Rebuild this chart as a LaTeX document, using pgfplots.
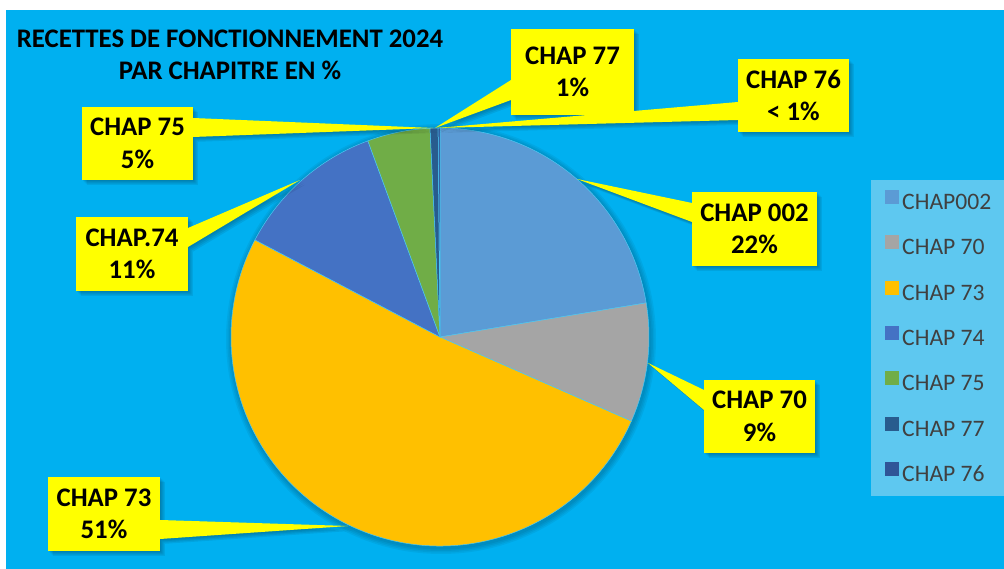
\documentclass[border=0pt]{standalone}
\usepackage{pgfplots}
\pgfplotsset{compat=1.18}
\usepackage{fontspec}
\setmainfont{Carlito}
\definecolor{bgblue}{HTML}{00B0F0}
\definecolor{legbg}{HTML}{5EC8F0}
\definecolor{c002}{HTML}{5B9BD5}
\definecolor{c70}{HTML}{A5A5A5}
\definecolor{c73}{HTML}{FFC000}
\definecolor{c74}{HTML}{4472C4}
\definecolor{c75}{HTML}{70AD47}
\definecolor{c77}{HTML}{285C8E}
\definecolor{c76}{HTML}{2F5597}
\definecolor{yel}{HTML}{FFFF00}
\definecolor{legtext}{HTML}{404040}
% pie data: value (%) / colour, clockwise from 12 o'clock
\newcommand\piedata{22.39/c002, 9.2/c70, 51.1/c73, 11.7/c74, 4.85/c75, 0.62/c77, 0.14/c76}
\newcommand\lblfont{\bfseries\fontsize{26.8}{32.5}\selectfont}
% callout: #1 x1, #2 y1, #3 x2, #4 y2 (box), #5 base x, #6 base y a, #7 base y b, #8 tip "x,y", #9 text
\newcommand\callout[9]{%
  \foreach \s in {1,2,3,4}{%
    \edef\temp{\noexpand\fill[black,opacity=0.07,shift={(axis direction cs:\s*1.2,-\s*1.2)}]
      (axis cs:#5,#6) -- (axis cs:#8) -- (axis cs:#5,#7) -- cycle
      (axis cs:#1,#2) rectangle (axis cs:#3,#4);}\temp}
  \fill[yel] (axis cs:#5,#6) -- (axis cs:#8) -- (axis cs:#5,#7) -- cycle;
  \fill[yel] (axis cs:#1,#2) rectangle (axis cs:#3,#4);
  \node[align=center,inner sep=0pt,font=\lblfont,text=black] at (axis cs:{(#1+#3)/2},{(#2+#4)/2}) {#9};
}
\begin{document}
\begin{tikzpicture}
\begin{axis}[
  width=1004pt, height=569pt, scale only axis,
  xmin=0, xmax=1004, ymin=-569, ymax=0,
  hide axis, clip=true,
  legend style={at={(0.8815,0.6661)}, anchor=north west, fill=none, draw=none,
    inner sep=0pt, row sep=18.8pt, font=\fontsize{23.6}{28}\selectfont, text=legtext,
    nodes={inner xsep=3pt, inner ysep=0pt, text height=17pt, text depth=7pt}},
  legend cell align=left,
  legend image code/.code={\fill[#1,draw=none] (0pt,0.5pt) rectangle (14pt,14.5pt);},
]
\coordinate (LL) at (axis cs:0,-569);
\coordinate (UR) at (axis cs:1004,0);
\fill[white] (axis cs:0,-569) rectangle (axis cs:1004,0);
\fill[bgblue] (axis cs:6,-569) rectangle (axis cs:1004,-10);
% legend background
\fill[legbg] (axis cs:871,-496) rectangle (axis cs:1004,-180);
% title
\node[anchor=base,font=\lblfont] at (axis cs:230,-48) {RECETTES DE FONCTIONNEMENT 2024};
\node[anchor=base,font=\lblfont] at (axis cs:230,-80) {PAR CHAPITRE EN \%};
% pie shadow
\foreach \s in {1,2,3,4}{%
  \edef\temp{\noexpand\fill[black,opacity=0.05] (axis cs:441,-339) circle[radius=\s*1.5pt+209pt];}\temp}
% pie slices
\xdef\curang{90}
\foreach \v/\c in \piedata {%
  \pgfmathsetmacro\endang{\curang-3.6*\v}%
  \edef\temp{\noexpand\fill[\c, draw=bgblue!70!white, line width=0.5pt] (axis cs:440,-337) -- ++(\curang:209pt) arc[start angle=\curang, end angle=\endang, radius=209pt] -- cycle;}%
  \temp
  \global\let\curang\endang
}
% callouts
\callout{692}{-192}{817}{-266}{692}{-203}{-222}{577,-179}{CHAP 002\\22\%}
\callout{704}{-380}{815}{-453}{704}{-390}{-410}{648,-363}{CHAP 70\\9\%}
\callout{48}{-477}{160}{-551}{160}{-520}{-539}{348,-526}{CHAP 73\\51\%}
\callout{76}{-217}{188}{-291}{188}{-228}{-247}{300,-180}{CHAP.74\\11\%}
\callout{82}{-107}{193}{-180}{193}{-118}{-137}{433,-128}{CHAP 75\\5\%}
\callout{511}{-29}{634}{-115}{511}{-80}{-100}{435,-128}{CHAP 77\\1\%}
\callout{738}{-59}{849}{-132}{738}{-102}{-120}{437,-128}{CHAP 76\\< 1\%}
% legend
\addlegendimage{draw=none,fill=c002}\addlegendentry{CHAP002}
\addlegendimage{draw=none,fill=c70}\addlegendentry{CHAP 70}
\addlegendimage{draw=none,fill=c73}\addlegendentry{CHAP 73}
\addlegendimage{draw=none,fill=c74}\addlegendentry{CHAP 74}
\addlegendimage{draw=none,fill=c75}\addlegendentry{CHAP 75}
\addlegendimage{draw=none,fill=c77}\addlegendentry{CHAP 77}
\addlegendimage{draw=none,fill=c76}\addlegendentry{CHAP 76}
\end{axis}
\pgfresetboundingbox
\path (LL) rectangle (UR);
\end{tikzpicture}
\end{document}
